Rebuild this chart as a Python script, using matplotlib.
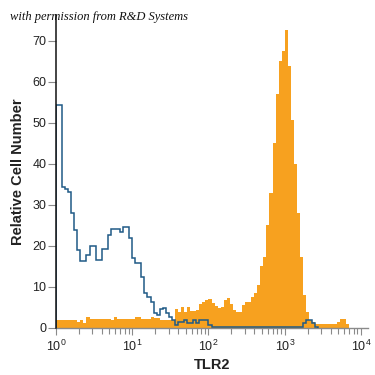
import matplotlib
matplotlib.use("Agg")
import matplotlib.pyplot as plt
import numpy as np

# histogram channels: 0.04 decade bins starting at 10^0
bin_width = 0.04

isotype_counts = [
    54.4, 54.4, 34.4, 34.0, 33.2, 28.0, 24.0, 19.0, 16.4, 16.4,
    17.8, 20.0, 20.0, 16.6, 16.6, 19.3, 19.3, 22.7, 24.1, 24.1,
    24.1, 23.4, 24.7, 24.7, 22.0, 17.0, 15.9, 15.9, 12.5, 8.5,
    7.5, 6.4, 3.7, 3.2, 4.6, 4.9, 3.7, 2.8, 2.0, 0.8,
    1.5, 1.5, 2.0, 1.2, 1.2, 2.0, 1.2, 2.0, 2.0, 2.0,
    0.8, 0.3, 0.3, 0.3, 0.3, 0.3, 0.3, 0.3, 0.3, 0.3,
    0.3, 0.3, 0.3, 0.3, 0.3, 0.3, 0.3, 0.3, 0.3, 0.3,
    0.3, 0.3, 0.3, 0.3, 0.3, 0.3, 0.3, 0.3, 0.3, 0.3,
    0.3, 1.2, 2.0, 2.0, 1.2, 0.3,
]

tlr2_counts = [
    1.9, 1.9, 1.9, 1.9, 1.9, 1.9, 1.9, 1.5, 1.9, 1.3,
    2.6, 2.3, 2.3, 2.3, 2.3, 2.3, 2.3, 2.3, 1.9, 2.6,
    2.1, 2.1, 2.1, 2.1, 2.1, 2.1, 2.8, 2.8, 2.3, 2.3,
    2.3, 2.7, 2.5, 2.5, 2.0, 2.0, 2.0, 2.0, 2.0, 4.6,
    3.8, 5.0, 4.0, 5.0, 4.1, 4.1, 4.3, 5.8, 6.4, 6.8,
    7.1, 6.2, 5.4, 4.9, 5.2, 6.8, 7.2, 5.8, 4.4, 4.0,
    3.8, 5.6, 6.3, 6.3, 7.5, 8.5, 10.5, 15.0, 17.4, 25.0,
    33.0, 45.0, 57.0, 65.0, 67.5, 72.7, 63.8, 50.7, 40.0, 28.0,
    17.4, 8.0, 4.0, 2.0, 1.5, 1.0, 1.0, 1.0, 1.0, 1.0,
    1.0, 1.0, 1.5, 2.1, 2.1, 1.0,
]

y_ticks = [0, 10, 20, 30, 40, 50, 60, 70]
x_ticks = [1, 10, 100, 1000, 10000]
x_tick_labels = [r"$10^{0}$", r"$10^{1}$", r"$10^{2}$", r"$10^{3}$", r"$10^{4}$"]

sans = "Liberation Sans"
plt.rcParams["font.family"] = [sans, "DejaVu Sans"]
plt.rcParams["mathtext.fontset"] = "custom"
plt.rcParams["mathtext.rm"] = sans
plt.rcParams["mathtext.it"] = sans

orange = "#f7a11f"
blue = "#1f5a86"

fig = plt.figure(figsize=(3.75, 3.75), dpi=100)
ax = fig.add_axes([56 / 375, 47 / 375, 312 / 375, 313 / 375])

tlr2_edges = 10 ** (np.arange(len(tlr2_counts) + 1) * bin_width)
iso_edges = 10 ** (np.arange(len(isotype_counts) + 1) * bin_width)

ax.stairs(tlr2_counts, tlr2_edges, fill=True, color=orange, linewidth=0, zorder=2)
ax.stairs(isotype_counts, iso_edges, color=blue, linewidth=1.1, zorder=3)

ax.set_xscale("log")
ax.set_xlim(1, 10 ** 4.092)
ax.set_ylim(0, 76.3)

ax.set_yticks(y_ticks)
ax.set_xticks(x_ticks)
ax.set_xticklabels(x_tick_labels)

for side in ["top", "right"]:
    ax.spines[side].set_visible(False)
ax.spines["left"].set_color("#111111")
ax.spines["left"].set_linewidth(1.1)
ax.spines["bottom"].set_color("#8a8a8a")
ax.spines["bottom"].set_linewidth(1.0)
ax.spines["left"].set_zorder(4)

ax.tick_params(axis="y", length=6, width=0.8, color="#8a8a8a",
               labelsize=9, labelcolor="#222222", pad=1)
ax.tick_params(axis="x", which="major", length=5, width=0.8, color="#8a8a8a",
               labelsize=9, labelcolor="#222222", pad=3)
ax.tick_params(axis="x", which="minor", length=4, width=0.8, color="#8a8a8a")

ax.set_ylabel("Relative Cell Number", fontsize=10.5, fontweight="bold",
              color="#222222", labelpad=5)
ax.set_xlabel("TLR2", fontsize=10.5, fontweight="bold", color="#222222",
              labelpad=3)

fig.text(10 / 375, 1 - 17 / 375, "with permission from R&D Systems",
         family="Liberation Serif", style="italic", fontsize=9,
         va="center", ha="left", color="#111111")

fig.savefig("out.png", dpi=100)
